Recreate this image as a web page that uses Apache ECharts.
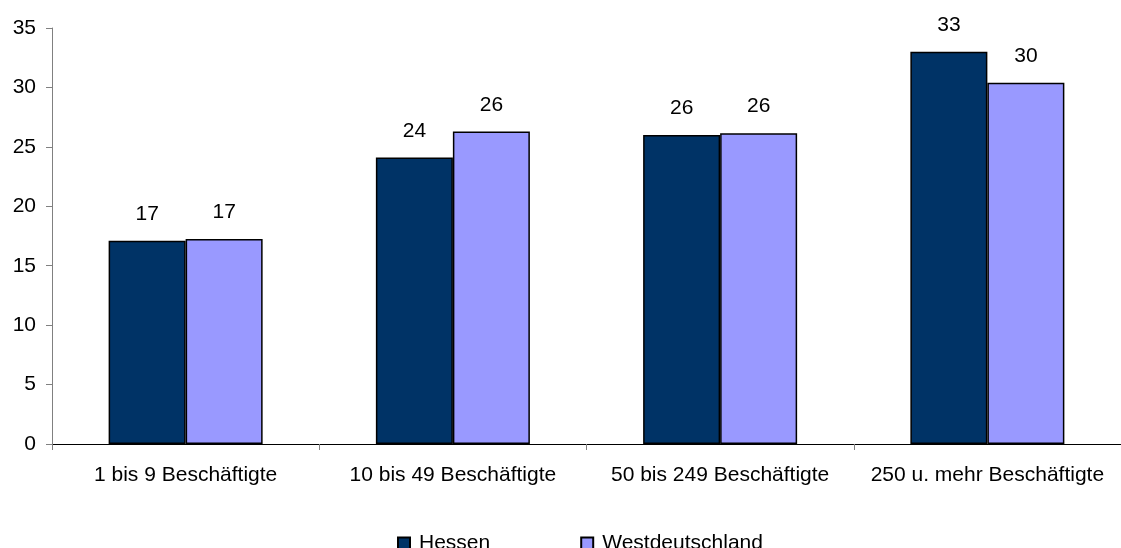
<!DOCTYPE html>
<html>
<head>
<meta charset="utf-8">
<script src="https://cdn.jsdelivr.net/npm/echarts@6/dist/echarts.min.js"></script>
<style>
  html, body { margin: 0; padding: 0; background: #ffffff; }
  #chart { width: 1121px; height: 548px; }
</style>
</head>
<body>
<div id="chart"></div>
<script>
// Betriebsgrößenklassen
const categories = ['1 bis 9 Beschäftigte', '10 bis 49 Beschäftigte', '50 bis 249 Beschäftigte', '250 u. mehr Beschäftigte'];
const hessen = [17.1, 24.1, 26.0, 33.0];
const westdeutschland = [17.25, 26.3, 26.15, 30.4];
const yTicks = [0, 5, 10, 15, 20, 25, 30, 35];

const FONT = 'Liberation Sans, Arial, sans-serif';
const FS = 21;

const chart = echarts.init(document.getElementById('chart'), null, { renderer: 'canvas' });

function labelOf(p) { return Math.round(p.value).toString(); }

chart.setOption({
  animation: false,
  backgroundColor: '#ffffff',
  textStyle: { fontFamily: FONT },
  grid: { left: 52, top: 28, width: 1076, height: 416, containLabel: false },
  legend: {
    left: 397,
    top: 533,
    padding: 0,
    itemWidth: 12,
    itemHeight: 12,
    itemGap: 90,
    icon: 'rect',
    textStyle: { fontFamily: FONT, fontSize: FS, color: '#000', padding: [0, 0, 0, 4] },
    data: ['Hessen', 'Westdeutschland']
  },
  xAxis: {
    type: 'category',
    data: categories,
    axisLine: { lineStyle: { color: '#000', width: 1 } },
    axisTick: { show: true, interval: 0, length: 6, lineStyle: { color: '#808080' } },
    axisLabel: { interval: 0, hideOverlap: false, fontFamily: FONT, fontSize: FS, color: '#000', margin: 21 },
    splitLine: { show: false }
  },
  yAxis: {
    type: 'value',
    min: yTicks[0],
    max: yTicks[yTicks.length - 1],
    interval: 5,
    axisLine: { show: true, lineStyle: { color: '#808080', width: 1 } },
    axisTick: { show: true, length: 6, lineStyle: { color: '#808080' } },
    axisLabel: { fontFamily: FONT, fontSize: FS, color: '#000', margin: 16 },
    splitLine: { show: false }
  },
  series: [
    {
      name: 'Hessen',
      type: 'bar',
      data: hessen,
      barWidth: 77,
      barGap: '0%',
      itemStyle: { color: '#003366', borderColor: '#000', borderWidth: 1.5 },
      label: { show: true, position: 'top', distance: 16, formatter: labelOf,
               fontFamily: FONT, fontSize: FS, color: '#000' }
    },
    {
      name: 'Westdeutschland',
      type: 'bar',
      data: westdeutschland,
      barWidth: 77,
      barGap: '0%',
      itemStyle: { color: '#9999ff', borderColor: '#000', borderWidth: 1.5 },
      label: { show: true, position: 'top', distance: 16, formatter: labelOf,
               fontFamily: FONT, fontSize: FS, color: '#000' }
    }
  ]
});
</script>
</body>
</html>
